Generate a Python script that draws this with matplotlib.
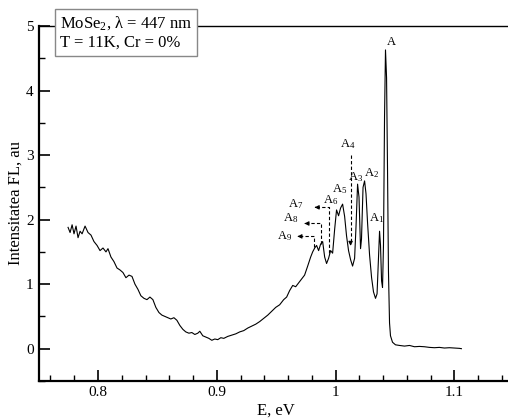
import matplotlib
matplotlib.use("Agg")
import matplotlib.pyplot as plt
from matplotlib.ticker import MultipleLocator, FuncFormatter

plt.rcParams['font.family'] = ['Liberation Serif', 'DejaVu Serif']
plt.rcParams['mathtext.fontset'] = 'custom'
plt.rcParams['mathtext.rm'] = 'Liberation Serif'
plt.rcParams['mathtext.it'] = 'Liberation Serif:italic'

# photoluminescence spectrum
energy = [0.7748, 0.7765, 0.7782, 0.7798, 0.7815, 0.7832, 0.7849, 0.7866, 0.7891, 0.7916,
          0.7941, 0.7966, 0.7992, 0.8017, 0.8042, 0.8067, 0.8084, 0.8109, 0.8134, 0.8160,
          0.8185, 0.8210, 0.8235, 0.8261, 0.8286, 0.8311, 0.8336, 0.8361, 0.8387, 0.8412,
          0.8437, 0.8462, 0.8487, 0.8513, 0.8538, 0.8563, 0.8588, 0.8613, 0.8639, 0.8664,
          0.8689, 0.8714, 0.8739, 0.8765, 0.8790, 0.8815, 0.8840, 0.8857, 0.8882, 0.8908,
          0.8933, 0.8958, 0.8983, 0.9008, 0.9034, 0.9059, 0.9092, 0.9126, 0.9160, 0.9193,
          0.9227, 0.9261, 0.9294, 0.9328, 0.9361, 0.9395, 0.9429, 0.9462, 0.9496, 0.9529,
          0.9563, 0.9588, 0.9613, 0.9639, 0.9664, 0.9689, 0.9714, 0.9739, 0.9765, 0.9790,
          0.9807, 0.9824, 0.9840, 0.9857, 0.9874, 0.9891, 0.9908, 0.9924, 0.9941, 0.9958,
          0.9975, 0.9992, 1.0008, 1.0025, 1.0042, 1.0059, 1.0076, 1.0092, 1.0109, 1.0126,
          1.0143, 1.0160, 1.0172, 1.0185, 1.0197, 1.0210, 1.0218, 1.0231, 1.0244, 1.0256,
          1.0269, 1.0286, 1.0303, 1.0319, 1.0336, 1.0349, 1.0361, 1.0370, 1.0378, 1.0387,
          1.0395, 1.0403, 1.0412, 1.0420, 1.0429, 1.0437, 1.0445, 1.0454, 1.0462, 1.0479,
          1.0504, 1.0538, 1.0580, 1.0622, 1.0664, 1.0706, 1.0748, 1.0790, 1.0832, 1.0874,
          1.0916, 1.0958, 1.1000, 1.1042, 1.1059]
intensity = [1.88, 1.80, 1.92, 1.78, 1.90, 1.72, 1.82, 1.78, 1.90, 1.80,
             1.76, 1.66, 1.60, 1.52, 1.56, 1.50, 1.55, 1.42, 1.35, 1.25,
             1.22, 1.18, 1.10, 1.14, 1.12, 1.00, 0.92, 0.82, 0.78, 0.76,
             0.80, 0.76, 0.64, 0.56, 0.52, 0.50, 0.48, 0.46, 0.48, 0.44,
             0.36, 0.30, 0.26, 0.24, 0.25, 0.22, 0.24, 0.27, 0.20, 0.18,
             0.16, 0.13, 0.15, 0.14, 0.17, 0.16, 0.19, 0.21, 0.23, 0.26,
             0.28, 0.32, 0.35, 0.38, 0.42, 0.47, 0.52, 0.58, 0.64, 0.68,
             0.76, 0.80, 0.90, 0.98, 0.96, 1.02, 1.08, 1.14, 1.28, 1.42,
             1.50, 1.56, 1.60, 1.52, 1.62, 1.66, 1.42, 1.32, 1.40, 1.52,
             1.48, 1.85, 2.15, 2.06, 2.18, 2.24, 2.05, 1.75, 1.52, 1.38,
             1.28, 1.40, 1.90, 2.55, 2.35, 1.55, 1.70, 2.50, 2.60, 2.40,
             1.95, 1.45, 1.10, 0.88, 0.78, 0.85, 1.40, 1.82, 1.60, 1.05,
             0.95, 1.60, 3.60, 4.63, 4.20, 2.80, 1.20, 0.40, 0.20, 0.10,
             0.06, 0.05, 0.04, 0.05, 0.03, 0.035, 0.03, 0.02, 0.015, 0.02,
             0.01, 0.015, 0.01, 0.005, 0.0]

# peak labels
peak_names = ['A', 'A$_1$', 'A$_2$', 'A$_3$', 'A$_4$', 'A$_5$', 'A$_6$', 'A$_7$', 'A$_8$', 'A$_9$']
peak_x = [1.047, 1.0345, 1.030, 1.0168, 1.010, 1.0030, 0.9960, 0.966, 0.962, 0.957]
peak_y = [4.76, 2.03, 2.72, 2.66, 3.17, 2.47, 2.30, 2.24, 2.02, 1.75]

fig = plt.figure(figsize=(5.08, 4.2), dpi=100)
ax = fig.add_axes([0.076, 0.093, 0.9354, 0.845])

ax.plot(energy, intensity, color='black', lw=0.8)

ax.set_xlim(0.75, 1.15)
ax.set_ylim(-0.5, 5)

ax.xaxis.set_major_locator(MultipleLocator(0.1))
ax.xaxis.set_minor_locator(MultipleLocator(0.02))
ax.yaxis.set_major_locator(MultipleLocator(1))
ax.yaxis.set_minor_locator(MultipleLocator(0.5))
ax.xaxis.set_major_formatter(FuncFormatter(lambda v, p: '%g' % round(v, 2)))
ax.tick_params(axis='both', which='major', direction='in', length=8, width=1.2, labelsize=11)
ax.tick_params(axis='both', which='minor', direction='in', length=4, width=1.0)
ax.tick_params(top=False, right=False, which='both')
for s in ['left', 'bottom']:
    ax.spines[s].set_linewidth(1.6)
ax.spines['top'].set_linewidth(1.0)

ax.set_xlabel('E, eV', fontsize=12, labelpad=3)
ax.set_ylabel('Intensitatea FL, au', fontsize=12, labelpad=2)

for name, x, y in zip(peak_names, peak_x, peak_y):
    ax.text(x, y, name, fontsize=9, ha='center', va='center')

# dashed guides for the satellites
dash = dict(color='black', lw=0.8, ls=(0, (3, 2)))
ax.plot([1.0126, 1.0126], [3.0, 1.62], **dash)
ax.annotate('', xy=(1.0126, 1.55), xytext=(1.0126, 1.7),
            arrowprops=dict(arrowstyle='-|>', color='black', lw=0.8, mutation_scale=6))
ax.plot([0.9941, 0.9941, 0.984], [1.49, 2.19, 2.19], **dash)
ax.annotate('', xy=(0.9800, 2.19), xytext=(0.986, 2.19),
            arrowprops=dict(arrowstyle='-|>', color='black', lw=0.8, mutation_scale=6))
ax.plot([0.9874, 0.9874, 0.975], [1.62, 1.94, 1.94], **dash)
ax.annotate('', xy=(0.9714, 1.94), xytext=(0.977, 1.94),
            arrowprops=dict(arrowstyle='-|>', color='black', lw=0.8, mutation_scale=6))
ax.plot([0.9815, 0.9815, 0.969], [1.57, 1.74, 1.74], **dash)
ax.annotate('', xy=(0.9655, 1.74), xytext=(0.971, 1.74),
            arrowprops=dict(arrowstyle='-|>', color='black', lw=0.8, mutation_scale=6))

ax.text(0.045, 1.033, 'MoSe$_2$, \u03bb = 447 nm\nT = 11K, Cr = 0%',
        transform=ax.transAxes, fontsize=12, ha='left', va='top', linespacing=1.25,
        bbox=dict(boxstyle='square,pad=0.3', fc='white', ec='#888888', lw=1.0),
        zorder=5, clip_on=False)

fig.savefig('out.png', dpi=100)
